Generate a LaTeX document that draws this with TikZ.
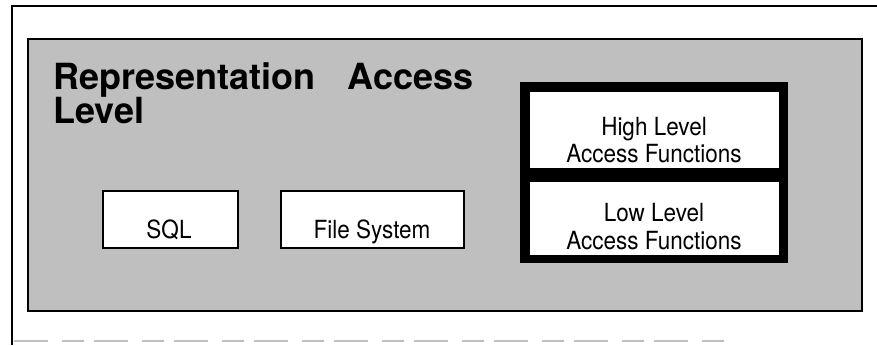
\documentclass[tikz,border=0pt]{standalone}
\usepackage{fontspec}
\setmainfont{TeX Gyre Heros}
\begin{document}
\begin{tikzpicture}[x=1pt,y=-1pt,
  frameline/.style={line width=2.4pt,black},
  panel/.style={draw=black,line width=2pt,fill=black!25},
  smallbox/.style={draw=black,line width=2.4pt,fill=white},
  whitecell/.style={fill=white,draw=none},
  boxtext/.style={font=\fontsize{25}{27}\selectfont,xscale=0.9,align=center,inner sep=0pt},
  titletext/.style={font=\fontsize{36}{27}\bfseries,inner sep=0pt,anchor=base west}]
\useasboundingbox (0,0) rectangle (877,345);
% outer frame
\coordinate (ftl) at (12,6);
\coordinate (ftr) at (877,6);
\coordinate (fbl) at (12,345);
\draw[frameline] (ftr) -- (ftl) -- (fbl);
\coordinate (g1) at (14,341);
\coordinate (g2) at (730,341);
\draw[black!25,line width=1.2pt,dash pattern=on 34pt off 14pt on 22pt off 10pt] (g1) -- (g2);
% grey panel
\node[panel,minimum width=834pt,minimum height=272pt,anchor=north west,inner sep=0pt] (pan) at (27,38) {};
% title
\node[titletext] (t1) at (53,89) {Representation\hspace{0.9em}Access};
\node[titletext] (t2) at (53,123) {Level};
% big black box
\node[fill=black,minimum width=268pt,minimum height=181pt,anchor=north west,inner sep=0pt] (big) at (520,82) {};
\node[whitecell,minimum width=249pt,minimum height=76pt,anchor=north west,inner sep=0pt] (hi) at (530,92) {};
\node[whitecell,minimum width=249pt,minimum height=73pt,anchor=north west,inner sep=0pt] (lo) at (530,182) {};
\node[boxtext,anchor=base] (hit1) at (654,135) {High Level};
\node[boxtext,anchor=base] (hit2) at (654,162) {Access Functions};
\node[boxtext,anchor=base] (lot1) at (654,221) {Low Level};
\node[boxtext,anchor=base] (lot2) at (654,249) {Access Functions};
% small boxes
\node[smallbox,minimum width=135pt,minimum height=57pt,anchor=north west,inner sep=0pt] (sql) at (102,190) {};
\node[boxtext,anchor=base] (sqlt) at (169,238) {SQL};
\node[smallbox,minimum width=183pt,minimum height=57pt,anchor=north west,inner sep=0pt] (fs) at (280,190) {};
\node[boxtext,anchor=base] (fst) at (372,238) {File System};
\end{tikzpicture}
\end{document}
